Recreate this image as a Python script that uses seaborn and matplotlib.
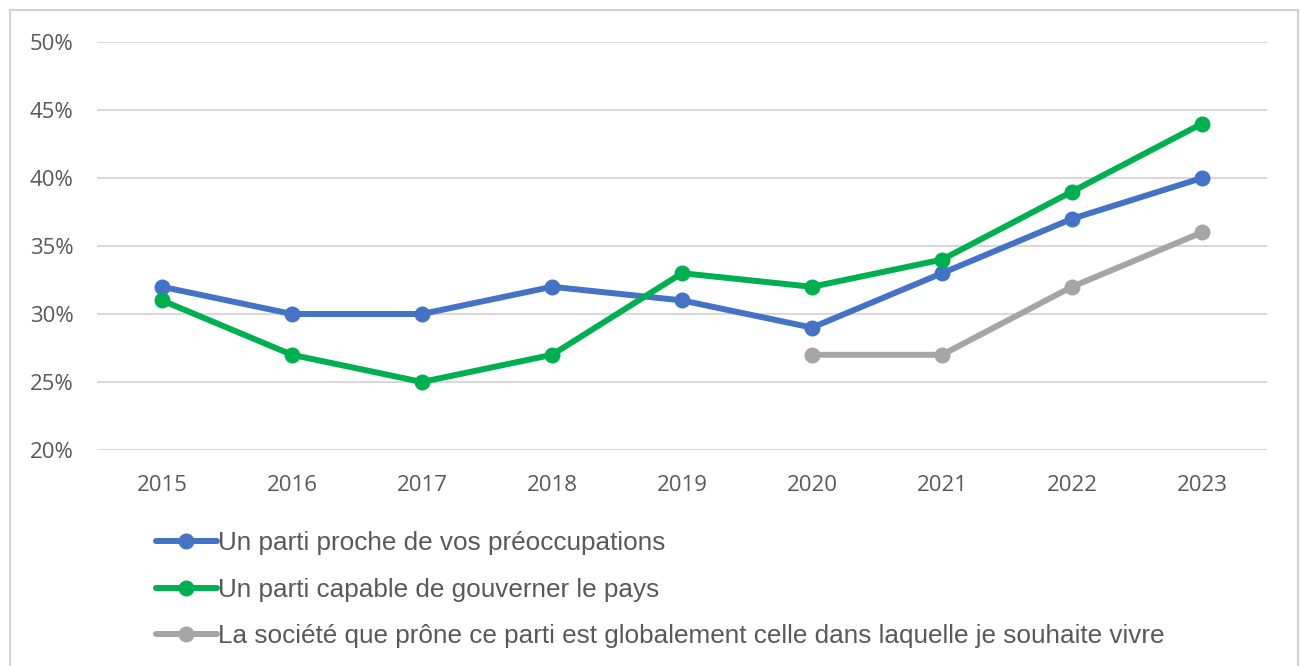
import numpy as np
import pandas as pd
import matplotlib
matplotlib.use("Agg")
import matplotlib.pyplot as plt
import seaborn as sns
from matplotlib.patches import Rectangle

years = ["2015", "2016", "2017", "2018", "2019", "2020", "2021", "2022", "2023"]
proche = [32, 30, 30, 32, 31, 29, 33, 37, 40]
gouverner = [31, 27, 25, 27, 33, 32, 34, 39, 44]
societe = [np.nan, np.nan, np.nan, np.nan, np.nan, 27, 27, 32, 36]

labels = [
    "Un parti proche de vos préoccupations",
    "Un parti capable de gouverner le pays",
    "La société que prône ce parti est globalement celle dans laquelle je souhaite vivre",
]
colors = ["#4472C4", "#00B050", "#A5A5A5"]
yticks = [20, 25, 30, 35, 40, 45, 50]

sns.set_theme(style="white")
plt.rcParams["font.family"] = ["Liberation Sans", "DejaVu Sans"]

fig = plt.figure(figsize=(13.01, 6.66), dpi=100)
ax = fig.add_axes([97 / 1301, 1 - 450 / 666, (1267 - 97) / 1301, (450 - 42) / 666])

for vals, lab, col in zip([proche, gouverner, societe], labels, colors):
    df = pd.DataFrame({"x": np.arange(len(years)), "y": vals}).dropna()
    sns.lineplot(data=df, x="x", y="y", ax=ax, color=col, linewidth=4.3,
                 marker="o", markersize=11.5, markeredgewidth=0, label=lab,
                 solid_capstyle="round")

ax.set_xlim(-0.5, len(years) - 0.5)
ax.set_ylim(20, 50)
ax.set_xticks(range(len(years)))
ax.set_xticklabels(years, family="Open Sans", fontsize=16, color="#595959")
ax.set_yticks(yticks)
ax.set_yticklabels([f"{v}%" for v in yticks], family="Open Sans", fontsize=16, color="#595959")
ax.tick_params(axis="both", length=0)
ax.tick_params(axis="x", pad=18)
ax.tick_params(axis="y", pad=17)
ax.set_xlabel("")
ax.set_ylabel("")
ax.grid(axis="y", color="#D9D9D9", linewidth=1.5)
ax.set_axisbelow(True)
for s in ax.spines.values():
    s.set_visible(False)

leg = ax.legend(loc="upper left", bbox_to_anchor=(146 / 1301, 1 - 521 / 666),
                bbox_transform=fig.transFigure, frameon=False, fontsize=18.8,
                handlelength=2.3, handletextpad=0.05, labelspacing=0.86,
                borderaxespad=0)
for t in leg.get_texts():
    t.set_color("#595959")

fig.patches.append(Rectangle((9.5 / 1301, -0.05), (1298 - 9.5) / 1301, 1.05 - 10 / 666,
                             transform=fig.transFigure, fill=False,
                             edgecolor="#D0D0D0", linewidth=1.5))

fig.savefig("out.png", dpi=100, facecolor="white")
